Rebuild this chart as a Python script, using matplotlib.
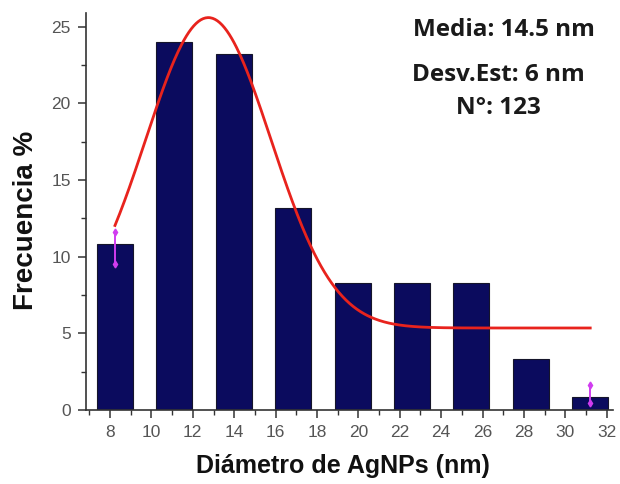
import numpy as np
import matplotlib
matplotlib.use("Agg")
import matplotlib.pyplot as plt
from matplotlib.ticker import MultipleLocator

# Histogram of particle diameters (bin centres in nm, frequency in %)
bin_centers = [8.24, 11.11, 13.98, 16.85, 19.72, 22.59, 25.46, 28.33, 31.20]
frequency = [10.8, 24.0, 23.2, 13.2, 8.3, 8.3, 8.3, 3.3, 0.85]
bar_width = 1.74

# Gaussian fit: y0 + A * exp(-(x - xc)^2 / (2 w^2))
fit_y0 = 5.35
fit_A = 20.25
fit_xc = 12.75
fit_w = 3.03

# Data-reader markers (x, y_low, y_high)
marker_x = [8.24, 31.20]
marker_lo = [9.5, 0.45]
marker_hi = [11.6, 1.65]

x_ticks = [8, 10, 12, 14, 16, 18, 20, 22, 24, 26, 28, 30, 32]
y_ticks = [0, 5, 10, 15, 20, 25]

stats_lines = ["Media: 14.5 nm", "Desv.Est: 6 nm", "N°: 123"]

fig = plt.figure(figsize=(6.2, 4.84), dpi=100)
ax = fig.add_axes([86 / 620, 1 - 410 / 484, 527 / 620, 397 / 484])

ax.bar(bin_centers, frequency, width=bar_width, color="#0b0b5e",
       edgecolor="#15152a", linewidth=0.8, zorder=2)

xs = np.linspace(bin_centers[0], bin_centers[-1], 400)
ys = fit_y0 + fit_A * np.exp(-(xs - fit_xc) ** 2 / (2 * fit_w ** 2))
ax.plot(xs, ys, color="#e8231d", linewidth=2.0, zorder=3)

for mx, lo, hi in zip(marker_x, marker_lo, marker_hi):
    ax.plot([mx, mx], [lo, hi], color="#d13cf0", linewidth=1.4, zorder=4)
    ax.plot([mx, mx], [lo, hi], linestyle="none", marker="d",
            markersize=3.5, color="#d13cf0", zorder=4)

ax.set_xlim(6.84, 32.3)
ax.set_ylim(0, 25.9)
ax.set_xticks(x_ticks)
ax.set_yticks(y_ticks)
ax.xaxis.set_minor_locator(MultipleLocator(1))
ax.yaxis.set_minor_locator(MultipleLocator(2.5))

for s in ("top", "right"):
    ax.spines[s].set_visible(False)
for s in ("left", "bottom"):
    ax.spines[s].set_color("#333333")
    ax.spines[s].set_linewidth(1.2)

ax.tick_params(axis="both", which="major", direction="out", length=6,
               width=1.1, color="#333333", labelcolor="#555555",
               labelsize=12.5)
ax.tick_params(axis="both", which="minor", direction="out", length=3.5,
               width=1.0, color="#333333")
ax.tick_params(axis="x", which="major", pad=5)
ax.tick_params(axis="y", which="major", pad=5)
for lab in ax.get_xticklabels() + ax.get_yticklabels():
    lab.set_family("Liberation Sans")

ax.set_xlabel("Diámetro de AgNPs (nm)", fontsize=18, fontweight="bold",
              family="Liberation Sans", color="#111111")
ax.set_ylabel("Frecuencia %", fontsize=20, fontweight="bold",
              family="Liberation Sans", color="#111111")
ax.xaxis.set_label_coords(0.488, -0.112)
ax.yaxis.set_label_coords(-0.09, 0.478)

text_pos = [(504, 30), (498, 75), (498, 108)]
for txt, (px, py) in zip(stats_lines, text_pos):
    fig.text(px / 620, 1 - py / 484, txt, ha="center", va="center",
             fontsize=17.5, fontweight="bold", family="Open Sans",
             color="#1a1a1a")

fig.savefig("out.png", dpi=100)
